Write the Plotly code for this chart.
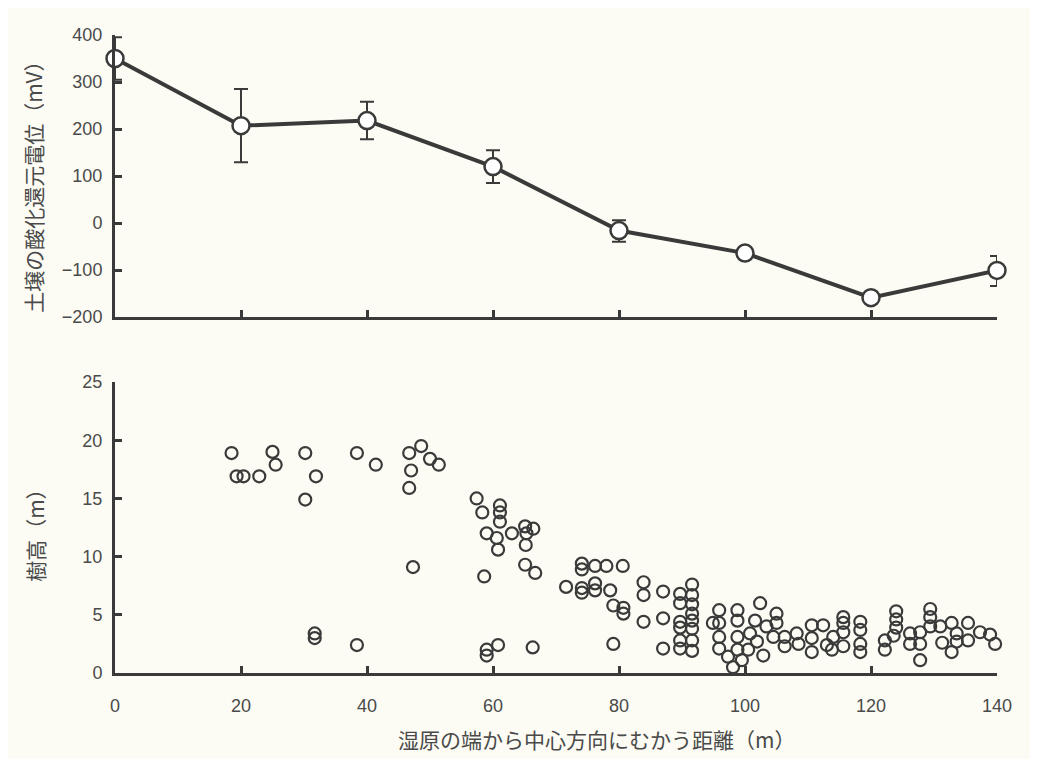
import plotly.graph_objects as go

# ---- data: soil redox potential (top panel) ----
redox_x = [0, 20, 40, 60, 80, 100, 120, 140]
redox_y = [350, 207, 218, 120, -16, -64, -159, -101]
redox_err_plus = [45, 78, 40, 35, 22, 8, 8, 31]
redox_err_minus = [45, 78, 40, 35, 24, 8, 8, 33]

# ---- data: tree height (bottom panel) ----
tree_x = [18.5, 19.3, 20.4, 22.9, 25.0, 25.5, 30.2, 31.9, 30.2, 31.7, 31.7, 38.4, 38.4, 41.4,
          46.7, 48.6, 50.0, 51.4, 47.0, 46.7, 47.3,
          57.4, 58.3, 61.1, 61.1, 61.1, 59.0, 60.6, 60.8, 63.0, 65.1, 66.4, 65.3, 65.2, 65.1, 66.7,
          58.6, 59.0, 59.0, 60.8, 66.3,
          74.1, 74.1, 76.2, 78.0, 80.6, 71.6, 74.1, 74.1, 76.2, 76.2, 78.6, 79.1, 80.7, 80.7, 79.1,
          83.9, 83.9, 83.9, 87.0, 87.0, 87.0, 89.7, 89.7, 89.7, 89.7, 89.7, 89.7,
          91.6, 91.6, 91.6, 91.6, 91.6, 91.6, 91.6, 91.6,
          95.9, 94.9, 95.9, 95.9, 95.9, 98.8, 98.8, 98.8, 98.8, 98.1, 99.5, 97.3,
          102.4, 101.6, 100.8, 101.9, 100.5, 105.0, 105.0, 103.4, 104.5, 106.3, 102.9, 106.3,
          108.2, 108.5, 110.6, 110.6, 110.6, 112.4, 113.0, 114.0, 115.6, 115.6, 115.6, 115.6, 113.8,
          118.3, 118.3, 118.3, 118.3, 122.2, 122.2,
          124.0, 124.0, 124.0, 123.6, 126.2, 126.2, 127.8, 127.8, 127.8, 129.4, 129.4, 129.4,
          131.0, 131.3, 132.8, 132.8, 133.6, 133.6, 135.4, 135.4, 137.3, 138.9, 139.7]
tree_y = [18.9, 16.9, 16.9, 16.9, 19.0, 17.9, 18.9, 16.9, 14.9, 3.4, 3.0, 18.9, 2.4, 17.9,
          18.9, 19.5, 18.4, 17.9, 17.4, 15.9, 9.1,
          15.0, 13.8, 14.4, 13.8, 13.0, 12.0, 11.6, 10.6, 12.0, 12.6, 12.4, 12.0, 11.0, 9.3, 8.6,
          8.3, 2.0, 1.5, 2.4, 2.2,
          9.4, 8.9, 9.2, 9.2, 9.2, 7.4, 7.3, 6.9, 7.7, 7.1, 7.1, 5.8, 5.6, 5.1, 2.5,
          7.8, 6.7, 4.4, 7.0, 4.7, 2.1, 6.8, 6.0, 4.4, 3.9, 2.8, 2.1,
          7.6, 6.7, 5.9, 5.1, 4.5, 3.8, 2.8, 1.9,
          5.4, 4.3, 4.3, 3.1, 2.1, 5.4, 4.5, 3.1, 2.0, 0.5, 1.1, 1.4,
          6.0, 4.5, 3.4, 2.7, 2.0, 5.1, 4.3, 4.0, 3.1, 3.1, 1.5, 2.3,
          3.4, 2.5, 4.1, 3.0, 1.8, 4.1, 2.4, 3.1, 4.8, 4.3, 3.5, 2.3, 2.0,
          4.4, 3.7, 2.5, 1.8, 2.8, 2.0,
          5.3, 4.6, 3.9, 3.2, 3.4, 2.5, 3.5, 2.5, 1.1, 5.5, 4.8, 4.0,
          4.0, 2.6, 4.3, 1.8, 3.4, 2.7, 4.3, 2.8, 3.5, 3.3, 2.5]

x_ticks = [0, 20, 40, 60, 80, 100, 120, 140]
redox_ticks = [-200, -100, 0, 100, 200, 300, 400]
redox_tick_text = ["\u2212200", "\u2212100", "0", "100", "200", "300", "400"]
height_ticks = [0, 5, 10, 15, 20, 25]

title_x = "湿原の端から中心方向にむかう距離（m）"
title_redox = "土壌の酸化還元電位（mV）"
title_height = "樹高（m）"

INK = "#3a3a3a"
TXT = "#4a4a4a"
BG = "#fcfcf4"
FONT = "Liberation Sans, Arial, Noto Sans CJK JP, sans-serif"
JFONT = "Noto Sans CJK JP, sans-serif"

fig = go.Figure()

fig.add_trace(go.Scatter(
    x=redox_x, y=redox_y, xaxis="x2", yaxis="y2",
    mode="lines+markers",
    line=dict(color=INK, width=4),
    marker=dict(symbol="circle", size=17, color="white", line=dict(color=INK, width=2.5)),
    error_y=dict(type="data", symmetric=False, array=redox_err_plus, arrayminus=redox_err_minus,
                 color=INK, thickness=2, width=7),
    cliponaxis=False, showlegend=False,
))

fig.add_trace(go.Scatter(
    x=tree_x, y=tree_y, xaxis="x", yaxis="y",
    mode="markers",
    marker=dict(symbol="circle-open", size=12, color=INK, line=dict(color=INK, width=2.2)),
    cliponaxis=False, showlegend=False,
))

axis_common = dict(showgrid=False, zeroline=False, showline=True, linecolor=INK, linewidth=3,
                   ticks="inside", tickcolor=INK, tickwidth=3, ticklen=7,
                   tickfont=dict(family=FONT, size=18, color=TXT))

fig.update_layout(
    width=1030, height=751,
    paper_bgcolor=BG, plot_bgcolor=BG,
    margin=dict(l=107, r=41, t=27, b=86),
    xaxis=dict(range=[0, 140], tickvals=x_ticks, domain=[0, 1], anchor="y",
               ticklabelstandoff=14, **axis_common),
    yaxis=dict(range=[0, 25], tickvals=height_ticks, domain=[0, 0.456], anchor="x",
               ticklabelstandoff=6, **axis_common),
    xaxis2=dict(range=[0, 140], tickvals=x_ticks, domain=[0, 1], anchor="y2",
                showticklabels=False, **axis_common),
    yaxis2=dict(range=[-200, 400], tickvals=redox_ticks, ticktext=redox_tick_text,
                domain=[0.558, 1], anchor="x2", ticklabelstandoff=6, **axis_common),
    annotations=[
        dict(text=title_x, xref="paper", yref="paper", x=0.546, y=-0.104, yanchor="middle",
             xanchor="center", showarrow=False, font=dict(family=JFONT, size=21, color=TXT)),
        dict(text=title_redox, xref="paper", yref="paper", x=-0.093, y=0.770, textangle=-90,
             xanchor="center", yanchor="middle", showarrow=False,
             font=dict(family=JFONT, size=21, color=TXT)),
        dict(text=title_height, xref="paper", yref="paper", x=-0.091, y=0.224, textangle=-90,
             xanchor="center", yanchor="middle", showarrow=False,
             font=dict(family=JFONT, size=21, color=TXT)),
    ],
)

fig.write_html("out.html")
